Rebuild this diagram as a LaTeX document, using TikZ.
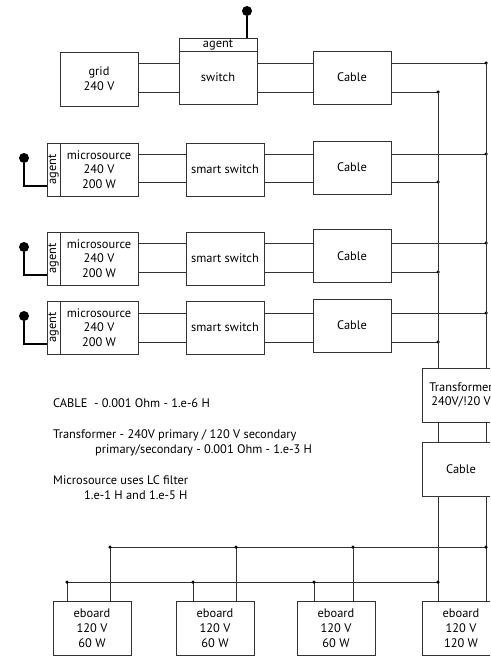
\documentclass[tikz,border=0pt]{standalone}
\usepackage{fontspec}
\setmainfont{PT Sans}
\begin{document}
\begin{tikzpicture}[x=1pt,y=-1pt,
  box/.style={draw=black!80, line width=0.8pt, fill=white, minimum width=78pt, minimum height=53pt, inner sep=0pt, align=center, font=\fontsize{12.4}{14.8}\selectfont},
  agentbar/.style={draw=black!80, line width=0.8pt, fill=white, minimum width=53pt, minimum height=13pt, inner sep=0pt, rotate=90, font=\fontsize{12.4}{13}\selectfont},
  agenttop/.style={draw=black!80, line width=0.8pt, fill=white, minimum width=78pt, minimum height=13pt, inner sep=0pt, font=\fontsize{12.4}{13}\selectfont},
  wire/.style={draw=black!80, line width=0.8pt},
  pin/.style={draw=black, line width=1.6pt},
  knob/.style={circle, fill=black, minimum size=10pt, inner sep=0pt},
  dot/.style={circle, fill=black, minimum size=3.5pt, inner sep=0pt},
  note/.style={anchor=base west, inner sep=0pt, font=\fontsize{12.4}{14}\selectfont}
]
\useasboundingbox (0,0) rectangle (490,656);
\clip (0,0) rectangle (490,656);

% ---- row 1 ----
\node[box, minimum height=54pt] (grid) at (99,79) {grid\\240 V};
\node[agenttop] (ag1) at (218,44.5) {agent};
\node[box] (sw) at (218,77.5) {switch};
\node[box] (cb1) at (352,77.5) {Cable};
\node[knob] (k1) at (247,11) {};
\draw[pin] (k1) -- (ag1.north -| k1);
\coordinate (u1) at (486,63);
\coordinate (l1) at (438,92);
\draw[wire] (grid.east |- u1) -- (sw.west |- u1) (sw.east |- u1) -- (cb1.west |- u1) (cb1.east |- u1) -- (u1);
\draw[wire] (grid.east |- l1) -- (sw.west |- l1) (sw.east |- l1) -- (cb1.west |- l1) (cb1.east |- l1) -- (l1);
\node[dot] at (u1) {};
\node[dot] at (l1) {};

% ---- rows 2-4 ----
\foreach \i/\cy/\cc/\yu/\yl in {2/169.5/167.5/154/182, 3/258.5/256/243/272, 4/327.5/325.5/313/342} {
  \node[agentbar] (ag\i) at (53.5,\cy) {agent};
  \node[box] (ms\i) at (99,\cy) {microsource\\240 V\\200 W};
  \node[box] (ss\i) at (225,\cy) {smart switch};
  \node[box] (cb\i) at (352,\cc) {Cable};
  \coordinate (u\i) at (486,\yu);
  \coordinate (l\i) at (438,\yl);
  \draw[wire] (ms\i.east |- u\i) -- (ss\i.west |- u\i) (ss\i.east |- u\i) -- (cb\i.west |- u\i) (cb\i.east |- u\i) -- (u\i);
  \draw[wire] (ms\i.east |- l\i) -- (ss\i.west |- l\i) (ss\i.east |- l\i) -- (cb\i.west |- l\i) (cb\i.east |- l\i) -- (l\i);
  \node[dot] at (u\i) {};
  \node[dot] at (l\i) {};
  \node[knob] (k\i) at (24,{\cy-11.5}) {};
  \draw[pin] (k\i) |- ([yshift=-16.5pt]ag\i.north);
}

% ---- transformer and cable ----
\node[box, minimum height=54pt] (tr) at (461,395) {Transformer\\240V/!20 V};
\node[box, minimum height=54pt] (cb5) at (461,469) {Cable};
\draw[wire] (u1) -- (tr.north -| u1);
\draw[wire] (l1) -- (tr.north -| l1);
\draw[wire] (tr.south -| u1) -- (cb5.north -| u1);
\draw[wire] (tr.south -| l1) -- (cb5.north -| l1);

% ---- eboards ----
\node[box, minimum height=54pt] (eb1) at (92,628) {eboard\\120 V\\60 W};
\node[box, minimum height=54pt] (eb2) at (215,628) {eboard\\120 V\\60 W};
\node[box, minimum height=54pt] (eb3) at (336,628) {eboard\\120 V\\60 W};
\node[box, minimum height=54pt] (eb4) at (461,628) {eboard\\120 V\\120 W};

\coordinate (bu1) at (110,547);
\coordinate (bu2) at (236,547);
\coordinate (bu3) at (353,547);
\coordinate (bu4) at (486,547);
\coordinate (bl1) at (67,582);
\coordinate (bl2) at (193,582);
\coordinate (bl3) at (314,582);
\coordinate (bl4) at (438,582);
\draw[wire] (bu1) -- (bu4);
\draw[wire] (bl1) -- (bl4);
\draw[wire] (cb5.south -| bu4) -- (eb4.north -| bu4);
\draw[wire] (cb5.south -| bl4) -- (eb4.north -| bl4);
\foreach \j in {1,2,3} {
  \draw[wire] (bu\j) -- (eb\j.north -| bu\j);
  \draw[wire] (bl\j) -- (eb\j.north -| bl\j);
}
\foreach \j in {1,2,3,4} {
  \node[dot] at (bu\j) {};
  \node[dot] at (bl\j) {};
}

% ---- notes ----
\node[note] (n1) at (53,407) {CABLE\ \ - 0.001 Ohm - 1.e-6 H};
\node[note] (n2) at (53,438) {Transformer - 240V primary / 120 V secondary};
\node[note] (n3) at (95,453) {primary/secondary - 0.001 Ohm - 1.e-3 H};
\node[note] (n4) at (53,484) {Microsource uses LC filter};
\node[note] (n5) at (84,499) {1.e-1 H and 1.e-5 H};
\end{tikzpicture}
\end{document}
